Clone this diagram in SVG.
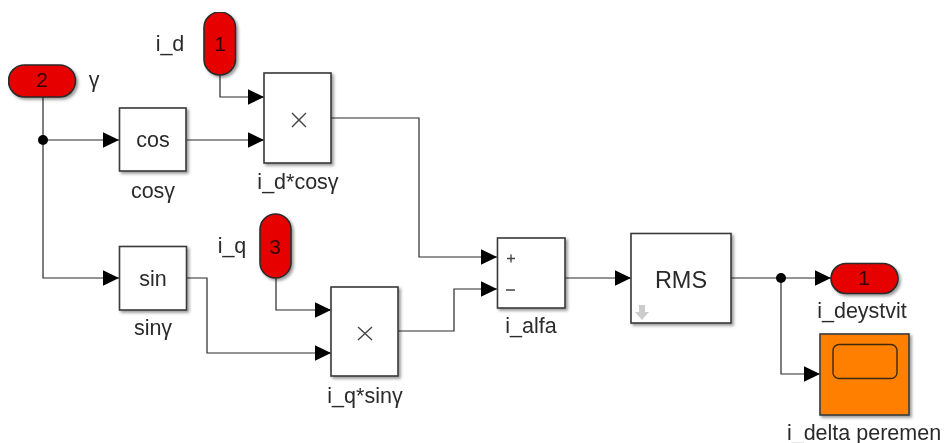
<svg xmlns="http://www.w3.org/2000/svg" width="944" height="443" viewBox="0 0 944 443">
<style>
text{font-family:"Liberation Sans",Arial,sans-serif;font-size:21.5px;fill:#2b2b2b;text-anchor:middle}
.b{fill:#fff;stroke:#3a3a3a;stroke-width:1.6;filter:url(#s)}
.p{fill:#e60000;stroke:#2a2a2a;stroke-width:1.6;filter:url(#s)}
.o{fill:#ff8000;stroke:#3a3a3a;stroke-width:1.6;filter:url(#s)}
.c{fill:none;stroke:#2a2a2a;stroke-width:1.2;marker-end:url(#a)}
.x{stroke:#444;stroke-width:1.4;fill:none}
text.n{font-size:21px;fill:#300}
text.r{font-size:23.5px}
</style>
<defs>
<filter id="s" x="-20%" y="-20%" width="150%" height="150%"><feDropShadow dx="2" dy="2" stdDeviation="1.5" flood-color="#000" flood-opacity="0.4"/></filter>
<filter id="soft" x="0" y="0" width="100%" height="100%"><feGaussianBlur stdDeviation="0.5"/></filter>
<marker id="a" markerUnits="userSpaceOnUse" markerWidth="17" markerHeight="17" refX="16.5" refY="8" orient="auto"><path d="M0 0L16.500 8L0 16Z" fill="#000"/></marker>
</defs>
<rect width="944" height="443" fill="#fff"/>
<g filter="url(#soft)">
<g id="connectors">
<path class="c" d="M43 97V278H119"/>
<path class="c" d="M43 140H119"/>
<path class="c" d="M220 75V97H264"/>
<path class="c" d="M187 140H264"/>
<path class="c" d="M331 118H419V257H497"/>
<path class="c" d="M187 278H207V353H331"/>
<path class="c" d="M276 278V310H331"/>
<path class="c" d="M398 331H454V289H497"/>
<path class="c" d="M565 278H631"/>
<path class="c" d="M731 278H831"/>
<path class="c" d="M781 278V374H820"/>
<circle cx="43" cy="140" r="5" fill="#000"/>
<circle cx="781" cy="278" r="5" fill="#000"/>
</g>
<g id="in2"><rect class="p" x="8.500" y="65" width="67" height="32" rx="16"/><text class="n" x="42" y="87">2</text><text x="94" y="87">γ</text></g>
<g id="in1"><rect class="p" x="204" y="12" width="31.500" height="63" rx="15.700"/><text class="n" x="220" y="51">1</text><text x="170" y="51">i_d</text></g>
<g id="in3"><rect class="p" x="260" y="214" width="31" height="64" rx="15.500"/><text class="n" x="275" y="254">3</text><text x="232" y="253">i_q</text></g>
<g id="cos"><rect class="b" x="119.500" y="108" width="66.500" height="63"/><text x="153" y="147">cos</text><text x="153" y="198">cosγ</text></g>
<g id="sin"><rect class="b" x="119.500" y="246.500" width="67" height="63.500"/><text x="153" y="286">sin</text><text x="153" y="335">sinγ</text></g>
<g id="prod1"><rect class="b" x="264" y="73" width="67" height="90"/><path class="x" d="M292 113L306 127M306 113L292 127"/><text x="298" y="189">i_d*cosγ</text></g>
<g id="prod2"><rect class="b" x="331" y="287" width="67" height="89"/><path class="x" d="M358 327L372 340M372 327L358 340"/><text x="365" y="403">i_q*sinγ</text></g>
<g id="sum"><rect class="b" x="497.500" y="238" width="67.500" height="70"/><path class="x" d="M507 258.500H515M511 254.500V262.500M506 290H515"/><text x="531" y="333">i_alfa</text></g>
<g id="rms"><rect class="b" x="631" y="233.500" width="100" height="89.500"/><text class="r" x="681" y="288">RMS</text><path d="M639 305H645V312H649L642 320L635 312H639Z" fill="#ccc"/></g>
<g id="out1"><rect class="p" x="831" y="263.500" width="67" height="30" rx="15"/><text class="n" x="864" y="285">1</text><text x="862" y="318">i_deystvit</text></g>
<g id="scope"><rect class="o" x="820" y="334" width="89" height="81"/><rect x="833" y="344.500" width="64" height="34" rx="6" fill="none" stroke="#3a2a10" stroke-width="1.400"/><text x="864" y="440">i_delta peremen</text></g>
</g>
</svg>
